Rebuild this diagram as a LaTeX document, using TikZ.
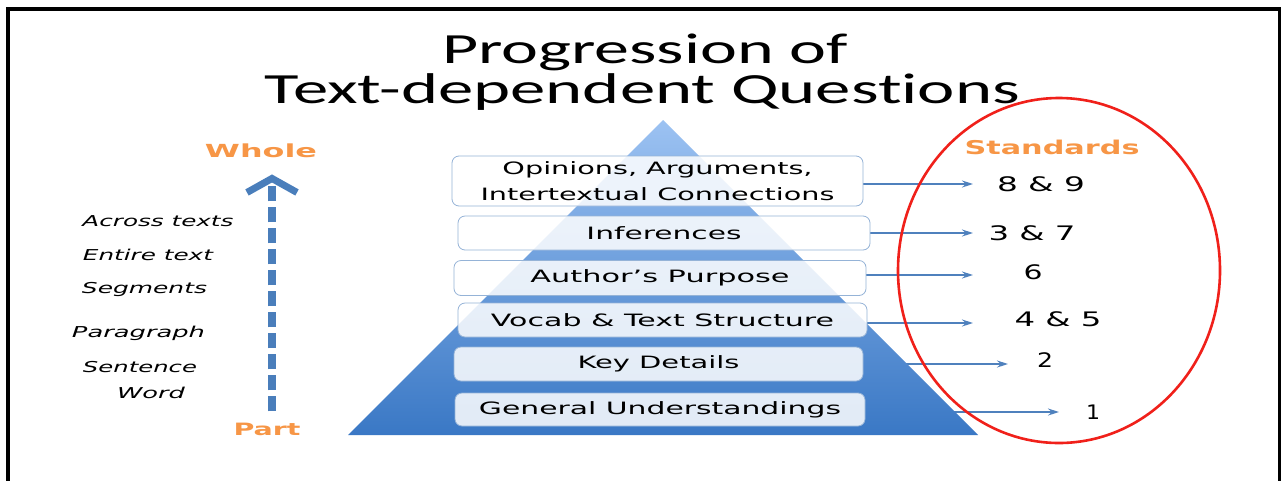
\documentclass[tikz,border=0pt]{standalone}
\usepackage{fontspec}
\usepackage{graphicx}
\setmainfont{DejaVu Sans}
\newfontfamily\titlefont[Ligatures=NoCommon]{Carlito}
\usetikzlibrary{arrows.meta}
\definecolor{orng}{HTML}{F79646}
\definecolor{arrblue}{HTML}{4F81BD}
\definecolor{dashblue}{HTML}{4A7EBB}
\definecolor{pyrtop}{HTML}{9CC2F2}
\definecolor{pyrmid}{HTML}{5E95DC}
\definecolor{pyrbot}{HTML}{3A78C5}
\definecolor{boxline}{HTML}{95B3D7}
\definecolor{ovalred}{HTML}{F0201A}
\newcommand{\fw}[2]{\resizebox{#1}{\height}{#2}}
\pgfdeclarelayer{bg}
\pgfdeclarelayer{pyr}
\pgfsetlayers{bg,pyr,main}
\begin{document}
\begin{tikzpicture}[x=1pt,y=-1pt,
  lbl/.style={inner sep=0pt, anchor=base},
  qbox/.style={draw=boxline, line width=0.8pt, rounded corners=7pt, fill=white,
    fill opacity=0.85, text opacity=1, inner sep=0pt,
    font=\fontsize{17}{26.5}\selectfont, align=center},
  arr/.style={draw=arrblue, line width=1.4pt, -{Stealth[length=11pt,width=7pt]}},
  num/.style={lbl, font=\fontsize{20}{24}\selectfont},
  side/.style={lbl, font=\fontsize{15}{18}\selectfont\itshape},
  head/.style={lbl, text=orng, font=\fontsize{18}{22}\selectfont\bfseries},
  ttl/.style={lbl, font=\titlefont\fontsize{43}{50}\selectfont}]
\useasboundingbox (0,0) rectangle (1285,480);
\begin{pgfonlayer}{bg}
\fill[white] (0,0) rectangle (1285,480);
\end{pgfonlayer}

% frame
\draw[black, line width=3.2pt] (8,482) -- (8,9) -- (1279.5,9) -- (1279.5,482);

% title
\node[ttl] (t1) at (645,63) {\fw{406pt}{Progression of}};
\node[ttl] (t2) at (642.5,103) {\fw{755pt}{Text-dependent Questions}};

% pyramid
\begin{pgfonlayer}{pyr}
\shade[top color=pyrtop, middle color=pyrmid, bottom color=pyrbot]
  (663,120) -- (978,435) -- (348,435) -- cycle;
\end{pgfonlayer}

% question boxes
\node[qbox, minimum width=411pt, minimum height=50pt] (b1) at (657.5,181)
  {\fw{310pt}{Opinions, Arguments,}\\\fw{354pt}{Intertextual Connections}};
\node[qbox, minimum width=412pt, minimum height=34pt] (b2) at (664,233) {\fw{155pt}{Inferences}};
\node[qbox, minimum width=412pt, minimum height=35pt] (b3) at (660,278) {\fw{259pt}{Author’s Purpose}};
\node[qbox, minimum width=409pt, minimum height=34pt] (b4) at (662.5,320) {\fw{343pt}{Vocab \& Text Structure}};
\node[qbox, minimum width=409pt, minimum height=34pt] (b5) at (658.5,364) {\fw{162pt}{Key Details}};
\node[qbox, minimum width=410pt, minimum height=33pt] (b6) at (660,409.5) {\fw{362pt}{General Understandings}};

% standards
\node[head, font=\fontsize{19}{22}\selectfont\bfseries] (std) at (1052,154) {\fw{175pt}{Standards}};
\node[num] (n1) at (1041,191) {\fw{88pt}{8 \& 9}};
\node[num] (n2) at (1032,240) {\fw{87pt}{3 \& 7}};
\node[num] (n3) at (1033,279) {\fw{19pt}{6}};
\node[num] (n4) at (1058,326) {\fw{87pt}{4 \& 5}};
\node[num] (n5) at (1045,367) {\fw{16pt}{2}};
\node[num] (n6) at (1093,419) {\fw{14pt}{1}};

\coordinate (e1) at (973,184);
\coordinate (e2) at (973,233);
\coordinate (e3) at (973,275);
\coordinate (e4) at (973,323);
\coordinate (e5) at (1008,364);
\coordinate (e6) at (1059,412);

\begin{pgfonlayer}{bg}
\draw[arr] (b1.east |- e1) -- (e1);
\draw[arr] (b2.east |- e2) -- (e2);
\draw[arr] (b3.east |- e3) -- (e3);
\draw[arr] (b4.east |- e4) -- (e4);
\draw[arr] (b5.east |- e5) -- (e5);
\draw[arr] (b6.east |- e6) -- (e6);
\end{pgfonlayer}

% red oval
\draw[ovalred, line width=2.6pt] (1059,270.5) ellipse [x radius=161pt, y radius=172.5pt];

% whole / part
\node[head] (whole) at (261,157) {\fw{112pt}{Whole}};
\node[head, font=\fontsize{17}{20}\selectfont\bfseries] (part) at (267,435) {\fw{67pt}{Part}};
\draw[dashblue, line width=8pt, dash pattern=on 15pt off 6pt,
  shorten <=11pt, shorten >=17pt,
  -{Straight Barb[length=14pt,width=50pt,line width=7pt]}]
  (part.north -| 272,0) -- (whole.south -| 272,0);

% side labels
\node[side] (l1) at (158,226) {\fw{151pt}{Across texts}};
\node[side] (l2) at (148,260) {\fw{130pt}{Entire text}};
\node[side] (l3) at (144.5,293) {\fw{125pt}{Segments}};
\node[side] (l4) at (138.5,337) {\fw{133pt}{Paragraph}};
\node[side] (l5) at (140,372) {\fw{114pt}{Sentence}};
\node[side] (l6) at (151,398) {\fw{68pt}{Word}};
\end{tikzpicture}
\end{document}
